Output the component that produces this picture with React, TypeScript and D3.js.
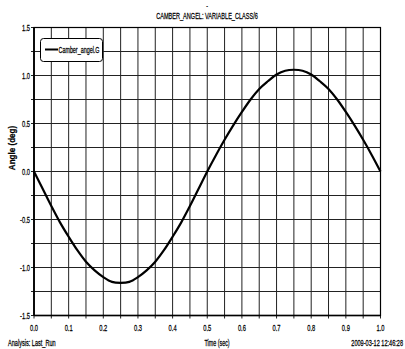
import React from "react";
import * as d3 from "d3";

const times = [0, 0.025, 0.05, 0.075, 0.1, 0.125, 0.15, 0.175, 0.2, 0.225, 0.25, 0.275, 0.3, 0.325, 0.35, 0.375, 0.4, 0.425, 0.45, 0.475, 0.5, 0.525, 0.55, 0.575, 0.6, 0.625, 0.65, 0.675, 0.7, 0.725, 0.75, 0.775, 0.8, 0.825, 0.85, 0.875, 0.9, 0.925, 0.95, 0.975, 1.0];
const camberAngle = [0, -0.18, -0.36, -0.53, -0.68, -0.82, -0.94, -1.03, -1.1, -1.15, -1.16, -1.15, -1.1, -1.03, -0.94, -0.82, -0.68, -0.53, -0.36, -0.18, 0, 0.17, 0.33, 0.48, 0.62, 0.75, 0.86, 0.94, 1.01, 1.05, 1.06, 1.05, 1.01, 0.94, 0.86, 0.75, 0.62, 0.48, 0.33, 0.17, 0];
const xTickLabels = ["0.0", "0.1", "0.2", "0.3", "0.4", "0.5", "0.6", "0.7", "0.8", "0.9", "1.0"];
const yTickLabels = ["1.5", "1.0", "0.5", "0.0", "-0.5", "-1.0", "-1.5"];
const xGrid = d3.range(0, 21).map((i) => i * 0.05);
const yGrid = d3.range(0, 13).map((i) => -1.5 + i * 0.25);

const title = "CAMBER_ANGEL: VARIABLE_CLASS/6";
const seriesName = "Camber_angel.G";
const xLabel = "Time (sec)";
const yLabel = "Angle (deg)";
const footLeft = "Analysis:  Last_Run";
const footRight = "2009-03-12 12:46:28";

const FONT = "'Liberation Sans', Arial, sans-serif";

function NT(props: { x: number; y: number; s: string; size?: number; anchor?: string; sx?: number; bold?: boolean; rot?: number }) {
  const { x, y, s, size = 9, anchor = "start", sx = 0.64, bold = false, rot = 0 } = props;
  return (
    <text
      transform={`translate(${x},${y}) rotate(${rot}) scale(${sx},1)`}
      fontSize={size}
      textAnchor={anchor}
      fontWeight={bold ? "bold" : "normal"}
      fill="#000"
      stroke="#000"
      strokeWidth={0.25}
    >
      {s}
    </text>
  );
}

export default function App() {
  const W = 405, H = 349;
  const L = 34, R = 380.5, T = 27.5, B = 315.5;
  const x = d3.scaleLinear().domain([0, 1]).range([L, R]);
  const y = d3.scaleLinear().domain([-1.5, 1.5]).range([B, T]);
  const line = d3
    .line<number>()
    .x((_, i) => x(times[i]))
    .y((d) => y(d))
    .curve(d3.curveCatmullRom);

  return (
    <svg
      width={W}
      height={H}
      style={{ position: "absolute", left: 0, top: 0, background: "#fff" }}
      fontFamily={FONT}
    >
      <rect x={0} y={0} width={W} height={H} fill="#fff" />
      {xGrid.map((v, i) => (
        <line key={"gx" + i} x1={x(v)} x2={x(v)} y1={T} y2={B + 3} stroke="#222" strokeWidth={1} />
      ))}
      {yGrid.map((v, i) => (
        <line key={"gy" + i} x1={L - 3} x2={R} y1={y(v)} y2={y(v)} stroke="#222" strokeWidth={1} />
      ))}
      <rect x={L} y={T} width={R - L} height={B - T} fill="none" stroke="#000" strokeWidth={1.2} />
      <line x1={L} x2={R} y1={B} y2={B} stroke="#000" strokeWidth={1.6} />
      <line x1={L} x2={L} y1={T} y2={B} stroke="#000" strokeWidth={1.6} />

      <path d={line(camberAngle) || ""} fill="none" stroke="#000" strokeWidth={2.2} strokeLinejoin="round" />

      {yTickLabels.map((s) => (
        <NT key={"yl" + s} x={L - 4} y={y(+s) + 3} s={s} size={9} anchor="end" />
      ))}
      {xTickLabels.map((s) => (
        <NT key={"xl" + s} x={x(+s)} y={331} s={s} size={9} anchor="middle" />
      ))}

      <rect x={40.5} y={38.5} width={62} height={23} rx={3} ry={3} fill="#fff" stroke="#000" strokeWidth={1} />
      <line x1={45} x2={58} y1={49.5} y2={49.5} stroke="#000" strokeWidth={2} />
      <NT x={58.5} y={52.5} s={seriesName} size={9} sx={0.6} />

      <NT x={207} y={8} s="-" size={8} anchor="middle" />
      <NT x={207} y={19} s={title} size={9} anchor="middle" sx={0.62} />
      <NT x={15} y={148} s={yLabel} size={9.5} anchor="middle" sx={0.85} bold rot={-90} />
      <NT x={217} y={346} s={xLabel} size={9} anchor="middle" sx={0.6} />
      <NT x={8} y={346} s={footLeft} size={9} sx={0.62} />
      <NT x={403} y={346} s={footRight} size={9} anchor="end" sx={0.62} />
    </svg>
  );
}
